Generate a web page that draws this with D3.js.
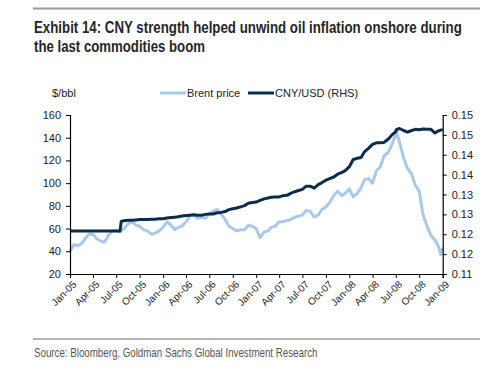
<!DOCTYPE html>
<html>
<head>
<meta charset="utf-8">
<script src="https://cdn.jsdelivr.net/npm/d3@7"></script>
<style>
  body { margin: 0; background: #fff; }
  svg { display: block; }
  .narrow { font-family: "Liberation Sans Narrow", "Arial Narrow", "Liberation Sans", sans-serif; }
  .chart text { font-family: "Liberation Sans", Arial, sans-serif; }
</style>
</head>
<body>
<svg id="chart" width="500" height="366"></svg>
<script>
// semi-monthly observations, plus the Jul-21-2005 revaluation and the Jul/Dec 2008 extremes
const dates = [
  "2005-01-01","2005-01-16","2005-02-01","2005-02-16","2005-03-01","2005-03-16",
  "2005-04-01","2005-04-16","2005-05-01","2005-05-16","2005-06-01","2005-06-16",
  "2005-07-01","2005-07-16","2005-07-21","2005-08-01","2005-08-16","2005-09-01",
  "2005-09-16","2005-10-01","2005-10-16","2005-11-01","2005-11-16","2005-12-01",
  "2005-12-16","2006-01-01","2006-01-16","2006-02-01","2006-02-16","2006-03-01",
  "2006-03-16","2006-04-01","2006-04-16","2006-05-01","2006-05-16","2006-06-01",
  "2006-06-16","2006-07-01","2006-07-16","2006-08-01","2006-08-16","2006-09-01",
  "2006-09-16","2006-10-01","2006-10-16","2006-11-01","2006-11-16","2006-12-01",
  "2006-12-16","2007-01-01","2007-01-16","2007-02-01","2007-02-16","2007-03-01",
  "2007-03-16","2007-04-01","2007-04-16","2007-05-01","2007-05-16","2007-06-01",
  "2007-06-16","2007-07-01","2007-07-16","2007-08-01","2007-08-16","2007-09-01",
  "2007-09-16","2007-10-01","2007-10-16","2007-11-01","2007-11-16","2007-12-01",
  "2007-12-16","2008-01-01","2008-01-16","2008-02-01","2008-02-16","2008-03-01",
  "2008-03-16","2008-04-01","2008-04-16","2008-05-01","2008-05-16","2008-06-01",
  "2008-06-16","2008-07-01","2008-07-03","2008-07-16","2008-08-01","2008-08-16",
  "2008-09-01","2008-09-16","2008-10-01","2008-10-16","2008-11-01","2008-11-16",
  "2008-12-01","2008-12-16","2008-12-24","2009-01-01"
];

// Brent, $/bbl (left axis)
const brent = [
  40, 46, 45, 47, 51, 55,
  55, 51, 49, 48, 54, 58,
  58, 57, 58, 60, 64, 66,
  63, 62, 59, 58, 55, 56,
  58, 61, 66, 63, 59, 61,
  62, 66, 71, 72, 69, 70,
  69, 73, 75, 77, 73, 68,
  62, 60, 58, 59, 59, 63,
  62, 60, 52, 57, 58, 61,
  62, 66, 66, 67, 68, 70,
  71, 72, 76, 75, 70, 72,
  77, 79, 83, 89, 93, 89,
  91, 95, 88, 91, 96, 103,
  104, 100, 111, 114, 124, 127,
  134, 143, 145, 136, 122, 113,
  108, 98, 93, 72, 62, 54,
  50, 44, 37, 43
];

// CNY/USD, USD per yuan (right axis)
const cny = [
  0.1208, 0.1208, 0.1208, 0.1208, 0.1208, 0.1208,
  0.1208, 0.1208, 0.1208, 0.1208, 0.1208, 0.1208,
  0.1208, 0.1208, 0.1233, 0.1234, 0.1235, 0.1235,
  0.1236, 0.1237, 0.1237, 0.1237, 0.1238, 0.1238,
  0.1239, 0.1239, 0.1241, 0.1242, 0.1243, 0.1244,
  0.1246, 0.1247, 0.1248, 0.1249, 0.1248, 0.1248,
  0.1250, 0.1251, 0.1251, 0.1254, 0.1255, 0.1257,
  0.1262, 0.1264, 0.1266, 0.1269, 0.1272, 0.1278,
  0.1280, 0.1281, 0.1285, 0.1289, 0.1291, 0.1293,
  0.1294, 0.1294, 0.1297, 0.1298, 0.1303, 0.1307,
  0.1310, 0.1313, 0.1321, 0.1321, 0.1316, 0.1325,
  0.1330, 0.1336, 0.1340, 0.1344, 0.1351, 0.1355,
  0.1360, 0.1370, 0.1388, 0.1391, 0.1393, 0.1408,
  0.1416, 0.1426, 0.1430, 0.1430, 0.1431, 0.1439,
  0.1450, 0.1458, 0.1463, 0.1466, 0.1461, 0.1457,
  0.1461, 0.1464, 0.1463, 0.1465, 0.1464, 0.1464,
  0.1455, 0.1460, 0.1462, 0.1462
];

const xTickDates = [
  "2005-01-01","2005-04-01","2005-07-01","2005-10-01","2006-01-01","2006-04-01",
  "2006-07-01","2006-10-01","2007-01-01","2007-04-01","2007-07-01","2007-10-01",
  "2008-01-01","2008-04-01","2008-07-01","2008-10-01","2009-01-01"
];
const leftTicks = [20, 40, 60, 80, 100, 120, 140, 160];
const rightTicks = [0.110, 0.115, 0.120, 0.125, 0.130, 0.135, 0.140, 0.145, 0.150];
const rightTickLabels = ["0.11", "0.12", "0.12", "0.13", "0.13", "0.14", "0.14", "0.15", "0.15"];

const titleLines = [
  "Exhibit 14: CNY strength helped unwind oil inflation onshore during",
  "the last commodities boom"
];
const titleWidths = [428, 171];
const sourceText = "Source: Bloomberg, Goldman Sachs Global Investment Research";
const seriesNames = ["Brent price", "CNY/USD (RHS)"];

const brentColor = "#a8c9e8";
const cnyColor = "#0c2c4c";

const parse = d3.timeParse("%Y-%m-%d");
const fmtTick = d3.timeFormat("%b-%y");

const svg = d3.select("#chart");
const plot = { left: 70, right: 442.7, top: 115, bottom: 274 };

// no narrow face installed, so squeeze the normal face horizontally to the original width
function squeeze(sel, x, y, width) {
  const w = sel.node().getComputedTextLength();
  sel.attr("x", 0).attr("y", 0)
    .attr("transform", `translate(${x},${y}) scale(${Math.min(1, width / w)},1)`);
}

// header / footer
svg.append("line")
  .attr("x1", 33).attr("x2", 480).attr("y1", 8.5).attr("y2", 8.5)
  .attr("stroke", "#9a9a9a").attr("stroke-width", 2);

titleLines.forEach((line, i) => {
  const t = svg.append("text")
    .attr("class", "title narrow")
    .attr("font-size", 17)
    .attr("font-weight", "bold")
    .attr("fill", "#262626")
    .text(line);
  squeeze(t, 34, 33 + i * 19, titleWidths[i]);
});

svg.append("line")
  .attr("x1", 33).attr("x2", 480).attr("y1", 339).attr("y2", 339)
  .attr("stroke", "#9a9a9a").attr("stroke-width", 1.5);

const src = svg.append("text")
  .attr("class", "narrow")
  .attr("font-size", 12.5)
  .attr("fill", "#555")
  .text(sourceText);
squeeze(src, 34, 357, 284);

// chart body
const g = svg.append("g").attr("class", "chart");

const x = d3.scaleTime()
  .domain([parse("2005-01-01"), parse("2009-01-01")])
  .range([plot.left, plot.right]);
const yL = d3.scaleLinear().domain([20, 160]).range([plot.bottom, plot.top]);
const yR = d3.scaleLinear().domain([0.11, 0.15]).range([plot.bottom, plot.top]);

const rows = dates.map((d, i) => ({ date: parse(d), brent: brent[i], cny: cny[i] }));

const brentLine = d3.line().x(d => x(d.date)).y(d => yL(d.brent));
const cnyLine = d3.line().x(d => x(d.date)).y(d => yR(d.cny));

g.append("path")
  .datum(rows)
  .attr("fill", "none")
  .attr("stroke", brentColor)
  .attr("stroke-width", 3)
  .attr("stroke-linejoin", "round")
  .attr("d", brentLine);

g.append("path")
  .datum(rows)
  .attr("fill", "none")
  .attr("stroke", cnyColor)
  .attr("stroke-width", 3)
  .attr("stroke-linejoin", "round")
  .attr("d", cnyLine);

// axes
const axisL = g.append("g")
  .attr("transform", `translate(${plot.left},0)`)
  .call(d3.axisLeft(yL).tickValues(leftTicks).tickSize(4).tickPadding(5));

const axisR = g.append("g")
  .attr("transform", `translate(${plot.right},0)`)
  .call(d3.axisRight(yR).tickValues(rightTicks).tickSize(4).tickPadding(5)
    .tickFormat((d, i) => rightTickLabels[i]));

const axisX = g.append("g")
  .attr("transform", `translate(0,${plot.bottom})`)
  .call(d3.axisBottom(x).tickValues(xTickDates.map(parse)).tickSize(4).tickFormat(fmtTick));

axisX.selectAll("text")
  .attr("text-anchor", "end")
  .attr("transform", "rotate(-45)")
  .attr("dx", "-0.3em")
  .attr("dy", "0.55em");

[axisL, axisR, axisX].forEach(a => {
  a.select(".domain").attr("stroke", "#000").attr("stroke-width", 1.2);
  a.selectAll(".tick line").attr("stroke", "#000");
  a.selectAll("text").attr("font-size", 11).attr("fill", "#222");
});
axisX.selectAll("text").attr("font-size", 10);

g.append("text")
  .attr("x", 52).attr("y", 97)
  .attr("font-size", 11)
  .attr("fill", "#222")
  .text("$/bbl");

// legend
const legend = g.selectAll(".legend")
  .data(seriesNames)
  .enter().append("g")
  .attr("class", "legend")
  .attr("transform", (d, i) => `translate(${i === 0 ? 160 : 248},93)`);

legend.append("line")
  .attr("x1", 0).attr("x2", 26)
  .attr("stroke", (d, i) => i === 0 ? brentColor : cnyColor)
  .attr("stroke-width", 3);

legend.append("text")
  .attr("x", 27).attr("y", 4)
  .attr("font-size", 11)
  .attr("fill", "#222")
  .text(d => d);
</script>
</body>
</html>
